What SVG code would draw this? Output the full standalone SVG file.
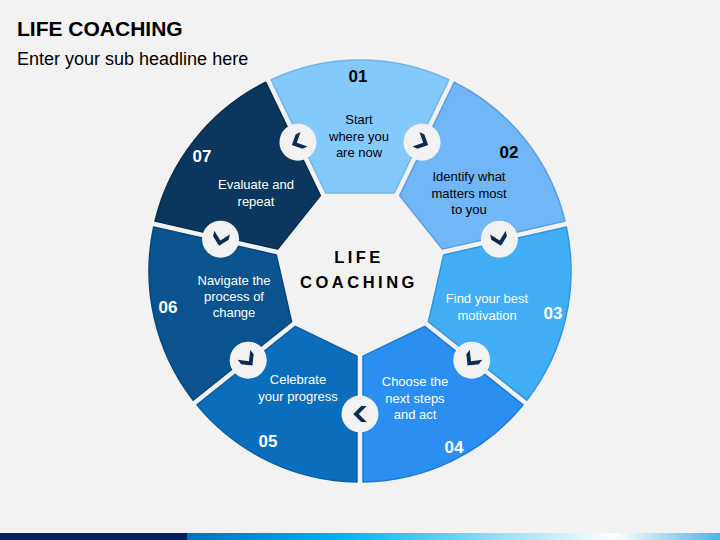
<svg xmlns="http://www.w3.org/2000/svg" xmlns:xlink="http://www.w3.org/1999/xlink" width="720" height="540" viewBox="0 0 720 540">
  <style>
    .title{font-family:"Liberation Sans",Arial,sans-serif;font-weight:bold;font-size:21px;fill:#000}
    .sub{font-family:"Liberation Sans",Arial,sans-serif;font-size:18px;fill:#000}
    .num{font-family:"Liberation Sans",Arial,sans-serif;font-weight:bold;font-size:17px;text-anchor:middle}
    .lbl{font-family:"Liberation Sans",Arial,sans-serif;font-size:13px;text-anchor:middle}
    .dk{fill:#000}
    .wt{fill:#fff}
    .center{font-family:"Liberation Sans",Arial,sans-serif;font-weight:bold;font-size:16.5px;letter-spacing:3.5px;text-anchor:middle;fill:#000}
    .hub{fill:#f2f2f2}
    .chev{fill:#0d2b4e}
    .seg{stroke-width:1.5;stroke-linejoin:round}
  </style>
  <defs>
    <path id="seg" d="M325.77,193 L271.16,79.61 A211,211 0 0 1 448.84,79.61 L394.23,193 Z"/>
    <path id="chev" d="M-6.75,-8 L-1.25,-8 L6.75,0 L-1.25,8 L-6.75,8 L1.25,0 Z"/>
    <linearGradient id="barGrad" x1="0" y1="0" x2="1" y2="0">
      <stop offset="0" stop-color="#0070c0"/>
      <stop offset="0.28" stop-color="#00b0f0"/>
      <stop offset="0.8" stop-color="#ffffff"/>
      <stop offset="1" stop-color="#4fb3e8"/>
    </linearGradient>
  </defs>

  <rect x="0" y="0" width="720" height="540" fill="#f2f2f2"/>

  <g id="header">
    <text class="title" x="17" y="36">LIFE COACHING</text>
    <text class="sub" x="17" y="65">Enter your sub headline here</text>
  </g>

  <g id="step-01">
    <use xlink:href="#seg" href="#seg" class="seg" fill="#84c9fb" stroke="#6db6ee" transform="rotate(0 360 271)"/>
    <text class="num dk" x="358" y="82">01</text>
    <text class="lbl dk" x="359" y="124">Start</text>
    <text class="lbl dk" x="359" y="140.5">where you</text>
    <text class="lbl dk" x="359" y="157">are now</text>
  </g>

  <g id="step-02">
    <use xlink:href="#seg" href="#seg" class="seg" fill="#71b6f6" stroke="#5a9fe2" transform="rotate(51.4286 360 271)"/>
    <text class="num dk" x="509" y="158">02</text>
    <text class="lbl dk" x="469" y="181">Identify what</text>
    <text class="lbl dk" x="469" y="197.5">matters most</text>
    <text class="lbl dk" x="469" y="214">to you</text>
  </g>

  <g id="step-03">
    <use xlink:href="#seg" href="#seg" class="seg" fill="#41aef6" stroke="#2f96dd" transform="rotate(102.8571 360 271)"/>
    <text class="num wt" x="553" y="319">03</text>
    <text class="lbl wt" x="487" y="303">Find your best</text>
    <text class="lbl wt" x="487" y="319.5">motivation</text>
  </g>

  <g id="step-04">
    <use xlink:href="#seg" href="#seg" class="seg" fill="#2a8ff0" stroke="#1e7ad6" transform="rotate(154.2857 360 271)"/>
    <text class="num wt" x="454" y="453">04</text>
    <text class="lbl wt" x="415" y="386">Choose the</text>
    <text class="lbl wt" x="415" y="402.5">next steps</text>
    <text class="lbl wt" x="415" y="419">and act</text>
  </g>

  <g id="step-05">
    <use xlink:href="#seg" href="#seg" class="seg" fill="#0a6ebd" stroke="#0a5fa6" transform="rotate(205.7143 360 271)"/>
    <text class="num wt" x="268" y="447">05</text>
    <text class="lbl wt" x="298" y="384">Celebrate</text>
    <text class="lbl wt" x="298" y="400.5">your progress</text>
  </g>

  <g id="step-06">
    <use xlink:href="#seg" href="#seg" class="seg" fill="#0b538f" stroke="#09467a" transform="rotate(257.1429 360 271)"/>
    <text class="num wt" x="168" y="313">06</text>
    <text class="lbl wt" x="234" y="285">Navigate the</text>
    <text class="lbl wt" x="234" y="301">process of</text>
    <text class="lbl wt" x="234" y="317">change</text>
  </g>

  <g id="step-07">
    <use xlink:href="#seg" href="#seg" class="seg" fill="#0b375e" stroke="#082d4e" transform="rotate(308.5714 360 271)"/>
    <text class="num wt" x="202" y="162">07</text>
    <text class="lbl wt" x="256" y="189">Evaluate and</text>
    <text class="lbl wt" x="256" y="205.5">repeat</text>
  </g>

  <g id="center-label">
    <text class="center" x="359" y="263">LIFE</text>
    <text class="center" x="359" y="288">COACHING</text>
  </g>

  <g id="connectors">
    <circle class="hub" cx="422.05" cy="142.16" r="18.5"/>
    <circle class="hub" cx="499.41" cy="239.18" r="18.5"/>
    <circle class="hub" cx="471.80" cy="360.16" r="18.5"/>
    <circle class="hub" cx="360" cy="414" r="18.5"/>
    <circle class="hub" cx="248.20" cy="360.16" r="18.5"/>
    <circle class="hub" cx="220.59" cy="239.18" r="18.5"/>
    <circle class="hub" cx="297.95" cy="142.16" r="18.5"/>
    <use xlink:href="#chev" href="#chev" class="chev" transform="translate(422.05 142.16) rotate(25.71)"/>
    <use xlink:href="#chev" href="#chev" class="chev" transform="translate(499.41 239.18) rotate(77.14)"/>
    <use xlink:href="#chev" href="#chev" class="chev" transform="translate(471.80 360.16) rotate(128.57)"/>
    <use xlink:href="#chev" href="#chev" class="chev" transform="translate(360 414) rotate(180)"/>
    <use xlink:href="#chev" href="#chev" class="chev" transform="translate(248.20 360.16) rotate(51.43)"/>
    <use xlink:href="#chev" href="#chev" class="chev" transform="translate(220.59 239.18) rotate(102.86)"/>
    <use xlink:href="#chev" href="#chev" class="chev" transform="translate(297.95 142.16) rotate(154.29)"/>
  </g>

  <g id="footer-bar">
    <rect x="0" y="533" width="187" height="7" fill="#002060"/>
    <rect x="187" y="533" width="533" height="7" fill="url(#barGrad)"/>
  </g>
</svg>
